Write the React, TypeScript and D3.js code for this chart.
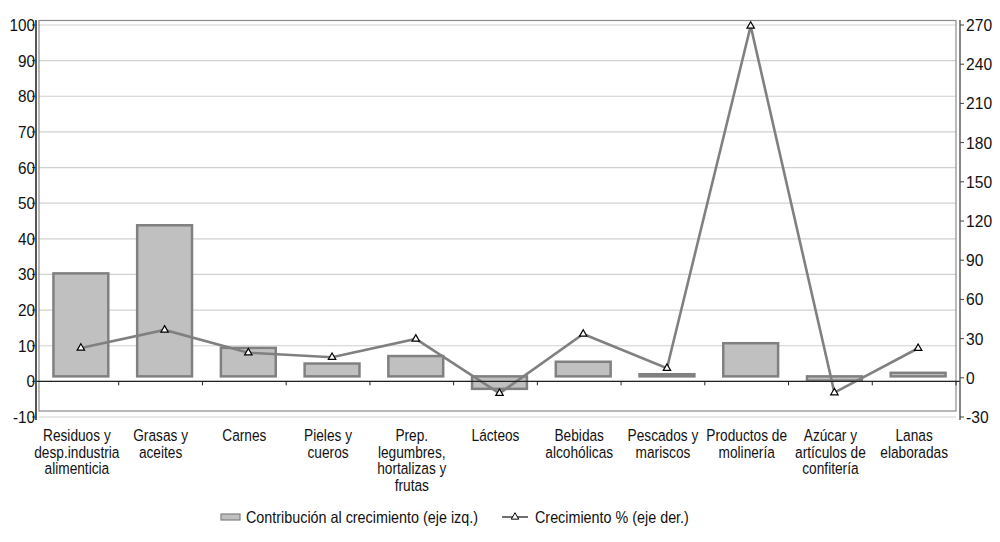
import * as d3 from "d3";
import * as React from "react";

const categories = [
  "Residuos y desp.industria alimenticia",
  "Grasas y aceites",
  "Carnes",
  "Pieles y cueros",
  "Prep. legumbres, hortalizas y frutas",
  "Lácteos",
  "Bebidas alcohólicas",
  "Pescados y mariscos",
  "Productos de molinería",
  "Azúcar y artículos de confitería",
  "Lanas elaboradas",
];

const labelLines = [
  ["Residuos y", "desp.industria", "alimenticia"],
  ["Grasas y", "aceites"],
  ["Carnes"],
  ["Pieles y", "cueros"],
  ["Prep.", "legumbres,", "hortalizas y", "frutas"],
  ["Lácteos"],
  ["Bebidas", "alcohólicas"],
  ["Pescados y", "mariscos"],
  ["Productos de", "molinería"],
  ["Azúcar y", "artículos de", "confitería"],
  ["Lanas", "elaboradas"],
];

// contribución al crecimiento (eje izq.)
const contribution = [28.9, 42.4, 8.0, 3.6, 5.7, -3.5, 4.1, 0.6, 9.3, -1.2, 1.0];
// crecimiento % (eje der.)
const growth = [19.0, 32.8, 15.4, 11.9, 25.9, -15.7, 29.7, 3.5, 265.4, -15.2, 18.8];

const leftTicks = [-10, 0, 10, 20, 30, 40, 50, 60, 70, 80, 90, 100];
const rightTicks = [-30, 0, 30, 60, 90, 120, 150, 180, 210, 240, 270];

const legendBar = "Contribución al crecimiento (eje izq.)";
const legendLine = "Crecimiento % (eje der.)";

// narrow-looking text: Liberation Sans squeezed horizontally
function T({ x, y, anchor = "start", size = 16, sx = 0.86, children }: any) {
  return (
    <g transform={`translate(${x},${y}) scale(${sx},1)`}>
      <text textAnchor={anchor} fontSize={size} fill="#111">
        {children}
      </text>
    </g>
  );
}

export default function App() {
  const width = 1000;
  const height = 542;
  const left = 35;
  const right = 956;
  const top = 25;
  const bottom = 417;
  // plot area content is drawn slightly offset from the axes
  const dx = 4;
  const dy = -5;

  const x = d3.scaleBand(categories, [left, right]).padding(0);
  const yL = d3.scaleLinear([-10, 100], [bottom, top]);
  const yR = d3.scaleLinear([-30, 270], [bottom, top]);
  const barW = x.bandwidth() * 0.655;
  const cx = (c: string) => (x(c) ?? 0) + x.bandwidth() / 2;

  const line = d3
    .line<number>()
    .x((_, i) => cx(categories[i]))
    .y((d) => yR(d));
  const tri = d3.symbol(d3.symbolTriangle, 24)() ?? "";

  return (
    <svg
      width={width}
      height={height}
      style={{ display: "block", position: "absolute", left: 0, top: 0 }}
      fontFamily="'Liberation Sans', Arial, sans-serif"
    >
      <rect width={width} height={height} fill="#fff" />
      {/* gridlines */}
      {leftTicks.map((t) => (
        <line key={t} x1={39} x2={right} y1={yL(t)} y2={yL(t)} stroke="#d0d0d0" strokeWidth={1.2} />
      ))}
      {/* plot area frame */}
      <rect x={39} y={20.5} width={right - 39} height={411 - 20.5} fill="none" stroke="#8a8a8a" strokeWidth={1.2} />

      <g transform={`translate(${dx},${dy})`}>
        {contribution.map((v, i) => {
          const y0 = yL(0);
          const y1 = yL(v);
          return (
            <rect
              key={categories[i]}
              x={cx(categories[i]) - barW / 2}
              y={Math.min(y0, y1)}
              width={barW}
              height={Math.max(Math.abs(y1 - y0), 0.5)}
              fill="#c0c0c0"
              stroke="#808080"
              strokeWidth={2.5}
            />
          );
        })}
        <path d={line(growth) ?? ""} fill="none" stroke="#808080" strokeWidth={2.6} />
        {growth.map((v, i) => (
          <path
            key={i}
            d={tri}
            transform={`translate(${cx(categories[i])},${yR(v)})`}
            fill="#fff"
            stroke="#000"
            strokeWidth={1.2}
          />
        ))}
      </g>

      {/* category axis */}
      <line x1={left} x2={960} y1={yL(0)} y2={yL(0)} stroke="#222" strokeWidth={1.3} />
      {categories.map((c) => (
        <line
          key={c}
          x1={(x(c) ?? 0) + x.bandwidth()}
          x2={(x(c) ?? 0) + x.bandwidth()}
          y1={yL(0)}
          y2={yL(0) + 4}
          stroke="#222"
          strokeWidth={1}
        />
      ))}

      {/* left axis */}
      <line x1={36} x2={36} y1={20} y2={420} stroke="#444" strokeWidth={1.8} />
      {leftTicks.map((t) => (
        <g key={t}>
          <line x1={32} x2={36} y1={yL(t)} y2={yL(t)} stroke="#444" />
          <T x={35} y={yL(t) + 6} anchor="end" size={17} sx={0.9}>
            {t}
          </T>
        </g>
      ))}

      {/* right axis */}
      <line x1={960} x2={960} y1={20} y2={420} stroke="#444" strokeWidth={1.3} />
      {rightTicks.map((t) => (
        <g key={t}>
          <line x1={960} x2={964} y1={yR(t)} y2={yR(t)} stroke="#444" />
          <T x={966} y={yR(t) + 6} size={17} sx={0.92}>
            {t}
          </T>
        </g>
      ))}

      {/* category labels */}
      {labelLines.map((lines, i) =>
        lines.map((l, j) => (
          <T key={`${i}-${j}`} x={cx(categories[i])} y={441 + j * 16.5} anchor="middle" size={16.5} sx={0.83}>
            {l}
          </T>
        ))
      )}

      {/* legend */}
      <rect x={221} y={514} width={19} height={6} fill="#c0c0c0" stroke="#808080" strokeWidth={1.2} />
      <T x={246} y={523} size={16.5} sx={0.87}>
        {legendBar}
      </T>
      <line x1={502} x2={528} y1={517} y2={517} stroke="#222" strokeWidth={1.3} />
      <path d={tri} transform="translate(515,517)" fill="#fff" stroke="#000" strokeWidth={1} />
      <T x={535} y={523} size={16.5} sx={0.87}>
        {legendLine}
      </T>
    </svg>
  );
}
